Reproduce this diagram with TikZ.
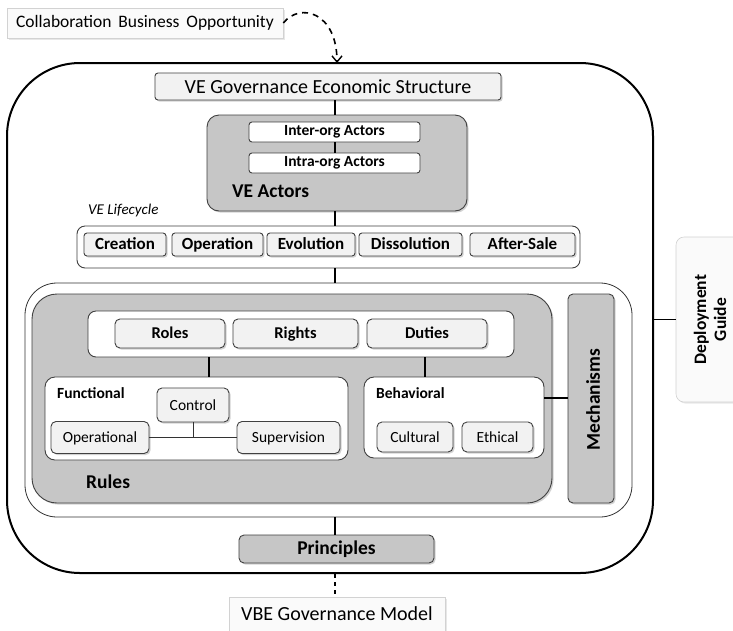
\documentclass[tikz,border=0pt]{standalone}
\usepackage{fontspec}
\setmainfont{Carlito}
\usetikzlibrary{shadows,arrows.meta}
\begin{document}
\begin{tikzpicture}[x=1pt,y=-1pt,
  conn/.style={line width=1.8pt,black},
  thin/.style={line width=0.9pt,black!80},
  shad/.style={drop shadow={shadow xshift=1.6pt,shadow yshift=-1.6pt,fill=black!35}},
  softshad/.style={drop shadow={shadow xshift=1.5pt,shadow yshift=-1.5pt,fill=black!18}},
  wh/.style n args={2}{minimum width=#1pt,minimum height=#2pt,inner sep=0pt},
  graybox/.style={draw=black!75,line width=0.9pt,fill=gray!45,shad},
  lightbox/.style={draw=black!75,line width=0.9pt,fill=gray!10,shad,rounded corners=3pt},
  whitebox/.style={draw=black!75,line width=0.9pt,fill=white},
  labelbox/.style={draw=gray!35,line width=0.6pt,fill=gray!4,softshad},
  fbig/.style={font=\fontsize{19.5}{22}\selectfont\bfseries},
  fmid/.style={font=\fontsize{17}{19}\selectfont\bfseries,text height=10.9pt,text depth=0pt},
  frrd/.style={font=\fontsize{16.5}{19}\selectfont\bfseries,text height=10.6pt,text depth=0pt},
  fsmall/.style={font=\fontsize{15.5}{18}\selectfont\bfseries},
  freg/.style={font=\fontsize{15.5}{18}\selectfont,text height=10pt,text depth=0pt},
]
\useasboundingbox (0,0) rectangle (733,630);
\fill[white] (0,0) rectangle (733,630);

% spine coordinates
\coordinate (sp) at (335,0);
\coordinate (c1) at (209,0);
\coordinate (c2) at (425,0);
\coordinate (my) at (0,398);
\coordinate (arrend) at (337,63);

% outer frame
\node[draw,line width=2pt,rounded corners=73pt,wh={646}{510}] (outer) at (330,318) {};

% top label
\node[labelbox,wh={276}{30},font=\fontsize{17.5}{20}\selectfont] (cbo) at (145,23) {Collaboration\, Business\, Opportunity};

% economic structure
\node[lightbox,wh={346}{27},font=\fontsize{20}{22}\selectfont] (vges) at (328,86.5) {VE Governance Economic Structure};

% actors
\node[graybox,rounded corners=12pt,wh={260}{96}] (actors) at (337,163) {};
\node[whitebox,rounded corners=3pt,wh={171}{20},font=\fontsize{15.5}{18}\selectfont\bfseries] (inter) at (334.5,132) {Inter-org Actors};
\node[whitebox,rounded corners=3pt,wh={171}{20},font=\fontsize{15.5}{18}\selectfont\bfseries] (intra) at (334.5,163) {Intra-org Actors};
\node[fbig,anchor=base west,inner sep=0pt] (actlbl) at (232,197) {VE Actors};

% lifecycle
\node[font=\fontsize{15}{18}\selectfont\itshape,anchor=base west,inner sep=0pt] (lclbl) at (88,214) {VE Lifecycle};
\node[whitebox,rounded corners=8pt,wh={503}{42}] (life) at (328.5,247) {};
\node[lightbox,fmid,wh={82}{23}] (creation) at (125,244.5) {Creation};
\node[lightbox,fmid,wh={91}{23}] (operation) at (217.5,244.5) {Operation};
\node[lightbox,fmid,wh={88}{23}] (evolution) at (311,244.5) {Evolution};
\node[lightbox,fmid,wh={103}{23}] (dissolution) at (410.5,244.5) {Dissolution};
\node[lightbox,fmid,wh={105}{23}] (aftersale) at (522.5,244.5) {After-Sale};

% rules container
\node[draw=black!80,line width=0.8pt,rounded corners=32pt,wh={607}{234}] (cont) at (328.5,400) {};
\node[graybox,rounded corners=25pt,wh={520}{209}] (rules) at (292,398.5) {};
\node[whitebox,rounded corners=8pt,wh={426}{46}] (rrd) at (301,334) {};
\node[lightbox,rounded corners=5pt,frrd,wh={110}{29}] (roles) at (170,333.5) {Roles};
\node[lightbox,rounded corners=5pt,frrd,wh={125}{29}] (rights) at (295.5,333.5) {Rights};
\node[lightbox,rounded corners=5pt,frrd,wh={120}{29}] (duties) at (427,333.5) {Duties};

\node[whitebox,rounded corners=10pt,wh={303}{83}] (func) at (196.5,418.5) {};
\node[fsmall,anchor=base west,inner sep=0pt] (funclbl) at (57,398) {Functional};
\node[lightbox,rounded corners=5pt,freg,wh={72}{34}] (control) at (193,405) {Control};
\node[lightbox,rounded corners=5pt,freg,wh={98}{32}] (operational) at (100,437.5) {Operational};
\node[lightbox,rounded corners=5pt,freg,wh={103}{32}] (supervision) at (288.5,437.5) {Supervision};

\node[whitebox,rounded corners=10pt,wh={180}{81}] (behav) at (454,417.5) {};
\node[fsmall,anchor=base west,inner sep=0pt] (behavlbl) at (376,398) {Behavioral};
\node[lightbox,rounded corners=5pt,freg,wh={76}{30}] (cultural) at (415,437) {Cultural};
\node[lightbox,rounded corners=5pt,freg,wh={71}{30}] (ethical) at (497.5,437) {Ethical};

\node[fbig,anchor=base west,inner sep=0pt] (ruleslbl) at (86,488) {Rules};

\node[graybox,rounded corners=5pt,wh={46}{209}] (mech) at (591,398.5) {};
\node[fbig,rotate=90,inner sep=0pt] (mechlbl) at (593,399.5) {Mechanisms};

% principles
\node[graybox,rounded corners=5pt,fbig,wh={195}{28}] (prin) at (336.5,549) {Principles};

% bottom label
\node[labelbox,wh={216}{34},font=\fontsize{20}{22}\selectfont] (vbe) at (337,614) {VBE Governance Model};

% deployment guide
\node[labelbox,rounded corners=8pt,wh={70}{165}] (dg) at (711,319.5) {};
\node[rotate=90,align=center,font=\fontsize{17.5}{20}\selectfont\bfseries,inner sep=0pt] (dglbl) at (710,319.5) {Deployment\\Guide};

% connectors
\draw[line width=1.6pt,dash pattern=on 6pt off 5pt,-{Straight Barb[length=6pt,width=10pt,line width=1.4pt]}]
  (cbo.east) .. controls (300,2) and (337,12) .. (arrend);
\draw[conn] (vges.south -| sp) -- (actors.north -| sp);
\draw[conn] (inter.south -| sp) -- (intra.north -| sp);
\draw[conn] (actors.south -| sp) -- (life.north -| sp);
\draw[conn] (life.south -| sp) -- (cont.north -| sp);
\draw[conn] (rrd.south -| c1) -- (func.north -| c1);
\draw[conn] (rrd.south -| c2) -- (behav.north -| c2);
\draw[thin] (operational.east) -- (supervision.west);
\draw[thin] (control.south) -- (control.south |- operational.east);
\draw[conn] (behav.east |- my) -- (mech.west |- my);
\draw[conn] (cont.south -| sp) -- (prin.north -| sp);
\draw[line width=1.2pt,dash pattern=on 4pt off 4pt] (outer.south -| sp) -- (vbe.north -| sp);
\draw[conn] (outer.east |- dg.west) -- (dg.west);
\end{tikzpicture}
\end{document}
